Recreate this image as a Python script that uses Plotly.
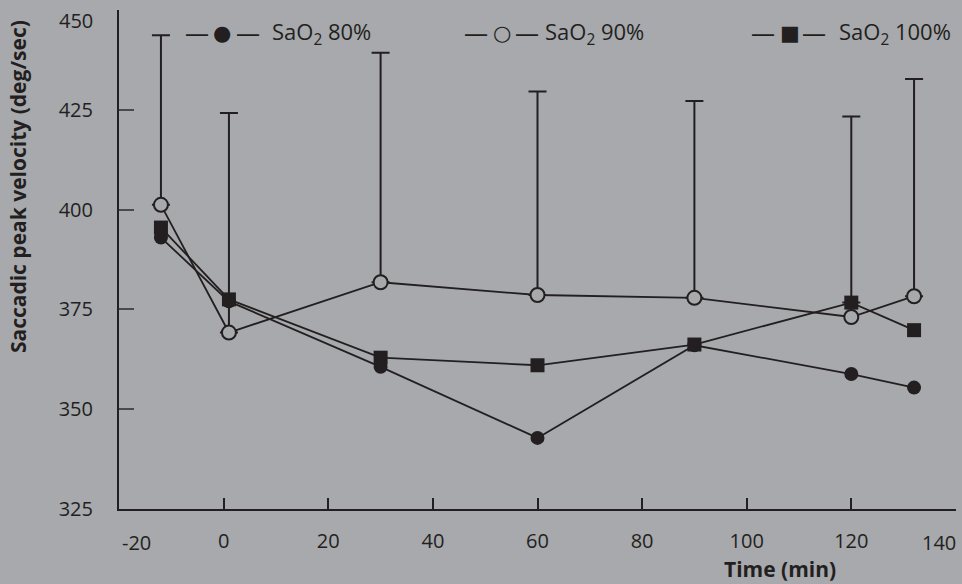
import plotly.graph_objects as go

# ---- data ----
time_min = [-12, 1, 30, 60, 90, 120, 132]
sao2_80 = [393.0, 377.0, 360.6, 342.8, 366.0, 358.8, 355.4]
sao2_90 = [401.2, 369.2, 381.8, 378.6, 377.9, 373.1, 378.3]
sao2_100 = [395.5, 377.5, 362.9, 361.0, 366.2, 376.7, 369.8]
# upward SD bars (None = no bar shown)
sd_90 = [42.5, 55.0, 57.5, 51.0, 49.3, None, 54.4]
sd_100 = [None, None, None, None, None, 46.6, None]

x_tickvals = [-20, 0, 20, 40, 60, 80, 100, 120, 140]
x_ticktext = ["-20", "0", "20", "40", "60", "80", "100", "120", "140"]
y_tickvals = [325, 350, 375, 400, 425, 450]
y_ticktext = ["325", "350", "375", "400", "425", "450"]

series_names = ["SaO<sub>2</sub> 80%", "SaO<sub>2</sub> 90%", "SaO<sub>2</sub> 100%"]

BG = "#a7a9ac"
INK = "#231f20"
FONT = "Open Sans"
TICKFONT = dict(family=FONT, size=20, color=INK)

fig = go.Figure()

# error bars (drawn first, beneath markers)
for yv, sd in [(sao2_90, sd_90), (sao2_100, sd_100)]:
    xs = [t for t, s in zip(time_min, sd) if s is not None]
    ys = [v for v, s in zip(yv, sd) if s is not None]
    es = [s for s in sd if s is not None]
    fig.add_trace(go.Scatter(
        x=xs, y=ys, mode="markers",
        marker=dict(size=1, color=BG, opacity=0),
        error_y=dict(type="data", symmetric=False, array=es,
                     arrayminus=[0] * len(es), color=INK, thickness=2, width=9),
        showlegend=False, hoverinfo="skip", cliponaxis=False))

fig.add_trace(go.Scatter(
    x=time_min, y=sao2_80, mode="lines+markers", name=series_names[0],
    line=dict(color=INK, width=1.8),
    marker=dict(symbol="circle", size=14, color=INK),
    showlegend=False, cliponaxis=False))
fig.add_trace(go.Scatter(
    x=time_min, y=sao2_90, mode="lines+markers", name=series_names[1],
    line=dict(color=INK, width=1.8),
    marker=dict(symbol="circle", size=14, color=BG, line=dict(color=INK, width=2)),
    showlegend=False, cliponaxis=False))
fig.add_trace(go.Scatter(
    x=time_min, y=sao2_100, mode="lines+markers", name=series_names[2],
    line=dict(color=INK, width=1.8),
    marker=dict(symbol="square", size=14, color=INK),
    showlegend=False, cliponaxis=False))

# legend built from text pieces: dash, glyph, dash, label
legend_glyphs = ["\u25CF", "\u25CB", "\u25A0"]
legend_pos = [  # (dash1, glyph, dash2, label-left) in paper x
    (0.0932, 0.1231, 0.1541, 0.1804),
    (0.4265, 0.4576, 0.4875, 0.5066),
    (0.7700, 0.8011, 0.8309, 0.8578),
]
LY = 0.954
for g, nm, (d1, gx, d2, tx) in zip(legend_glyphs, series_names, legend_pos):
    for dx in (d1, d2):
        fig.add_annotation(x=dx, y=LY, xref="paper", yref="paper",
                           xanchor="center", yanchor="middle", showarrow=False,
                           text="\u2014", font=dict(family=FONT, size=24, color=INK))
    fig.add_annotation(x=gx, y=LY, xref="paper", yref="paper",
                       xanchor="center", yanchor="middle", showarrow=False,
                       text=g, font=dict(family="DejaVu Sans", size=21, color=INK))
    fig.add_annotation(x=tx, y=LY, xref="paper", yref="paper",
                       xanchor="left", yanchor="middle", showarrow=False,
                       text=nm, font=dict(family=FONT, size=22, color=INK))

# edge tick labels are nudged inward in the original; draw them as annotations
x_edge = {x_tickvals[0]: 17, x_tickvals[-1]: -17}
x_ticktext_shown = ["" if v in x_edge else t for v, t in zip(x_tickvals, x_ticktext)]
for v, t in zip(x_tickvals, x_ticktext):
    if v in x_edge:
        fig.add_annotation(x=v, y=0, xref="x", yref="paper", xshift=x_edge[v], yshift=-33,
                           xanchor="center", yanchor="middle", showarrow=False,
                           text=t, font=TICKFONT)
y_ticktext_shown = ["" if v == y_tickvals[-1] else t for v, t in zip(y_tickvals, y_ticktext)]
fig.add_annotation(x=0, y=y_tickvals[-1], xref="paper", yref="y", xshift=-24, yshift=-10,
                   xanchor="right", yanchor="middle", showarrow=False,
                   text=y_ticktext[-1], font=TICKFONT)

fig.add_annotation(
    x=-0.1207, y=0.647, xref="paper", yref="paper", xanchor="center", yanchor="middle",
    showarrow=False, textangle=-90,
    text="<b>Saccadic peak velocity (deg/sec)</b>",
    font=dict(family=FONT, size=21, color=INK))
fig.add_annotation(
    x=0.79, y=-0.12, xref="paper", yref="paper", xanchor="center", yanchor="middle",
    showarrow=False, text="<b>Time (min)</b>",
    font=dict(family=FONT, size=21, color=INK))

fig.update_layout(
    width=962, height=584,
    margin=dict(l=119, r=6, t=10, b=75),
    paper_bgcolor=BG, plot_bgcolor=BG,
    font=dict(family=FONT, size=21, color=INK),
    showlegend=False,
    xaxis=dict(range=[-20.02, 140.02], tickvals=x_tickvals, ticktext=x_ticktext_shown,
               ticks="inside", ticklen=11, tickwidth=1.5, tickcolor=INK,
               showline=True, linewidth=2, linecolor=INK, automargin=False,
               showgrid=False, zeroline=False, ticklabelstandoff=13,
               ticklabeloverflow="allow", tickfont=TICKFONT),
    yaxis=dict(range=[324.99, 450.01], tickvals=y_tickvals, ticktext=y_ticktext_shown,
               ticks="inside", ticklen=15, tickwidth=1.5, tickcolor="#4a4a4c",
               showline=True, linewidth=2, linecolor=INK, automargin=False,
               showgrid=False, zeroline=False, ticklabelstandoff=20,
               ticklabeloverflow="allow", tickfont=TICKFONT),
)

fig.write_html(
    "out.html",
    config={"displayModeBar": False},
    post_script="document.body.style.margin='0';"
                "document.body.style.backgroundColor='" + BG + "';",
)
